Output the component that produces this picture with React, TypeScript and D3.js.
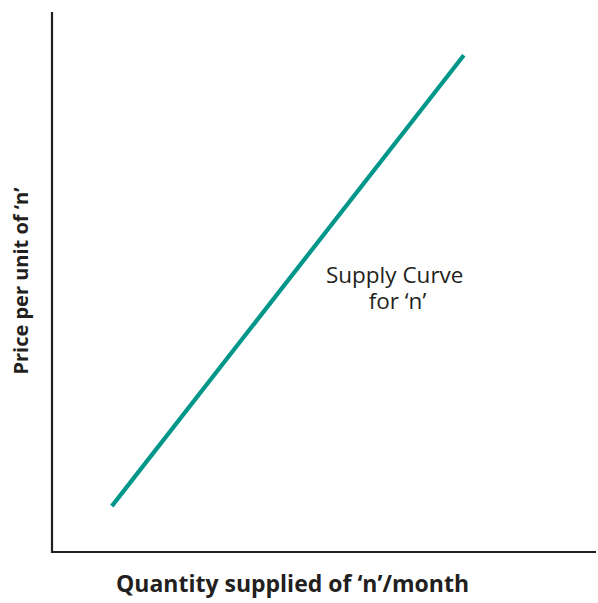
import React from 'react';
import * as d3 from 'd3';

const width = 598, height = 603;
const margin = { top: 12, right: 2, bottom: 51, left: 52 };

// supply line end points, in arbitrary quantity / price units
const quantity = [1.1, 7.57];
const price = [0.85, 9.2];

const curveLabel = ['Supply Curve', 'for \u2018n\u2019'];
const xTitle = 'Quantity supplied of \u2018n\u2019/month';
const yTitle = 'Price per unit of \u2018n\u2019';

const teal = '#00968a';
const ink = '#231f20';
const font = '"Open Sans", "Noto Sans", sans-serif';

export default function App() {
    // scales run from 0 to 10 on both axes, no ticks shown
    const xScale = d3.scaleLinear().domain([0, 10])
        .range([margin.left, width - margin.right]);
    const yScale = d3.scaleLinear().domain([0, 10])
        .range([height - margin.bottom, margin.top]);

    const points: [number, number][] = quantity.map((q, i) => [q, price[i]]);
    const line = d3.line<[number, number]>()
        .x(d => xScale(d[0]))
        .y(d => yScale(d[1]));

    return (
        <svg width={width} height={height} viewBox={`0 0 ${width} ${height}`}
            style={{ position: 'absolute', left: 0, top: 0, background: '#fff' }}>
            {/* axes */}
            <line x1={xScale(0)} x2={xScale(0)} y1={yScale(10)} y2={yScale(0) + 1}
                stroke={ink} strokeWidth={2.2} />
            <line x1={xScale(0) - 1} x2={xScale(10)} y1={yScale(0)} y2={yScale(0)}
                stroke={ink} strokeWidth={2.2} />

            <path d={line(points) || ''} stroke={teal} strokeWidth={4.2} fill="none" />

            <text fontFamily={font} fontSize={22.5} fill={ink} textAnchor="middle">
                <tspan x={xScale(6.3)} y={yScale(4.98)}>{curveLabel[0]}</tspan>
                <tspan x={xScale(6.35)} y={yScale(4.5)}>{curveLabel[1]}</tspan>
            </text>

            <text x={292.5} y={592} fontFamily={font} fontSize={23} fontWeight="bold"
                fill={ink} textAnchor="middle">{xTitle}</text>
            <text transform="translate(28,281) rotate(-90)" fontFamily={font} fontSize={20}
                fontWeight="bold" fill={ink} textAnchor="middle">{yTitle}</text>
        </svg>
    );
}
